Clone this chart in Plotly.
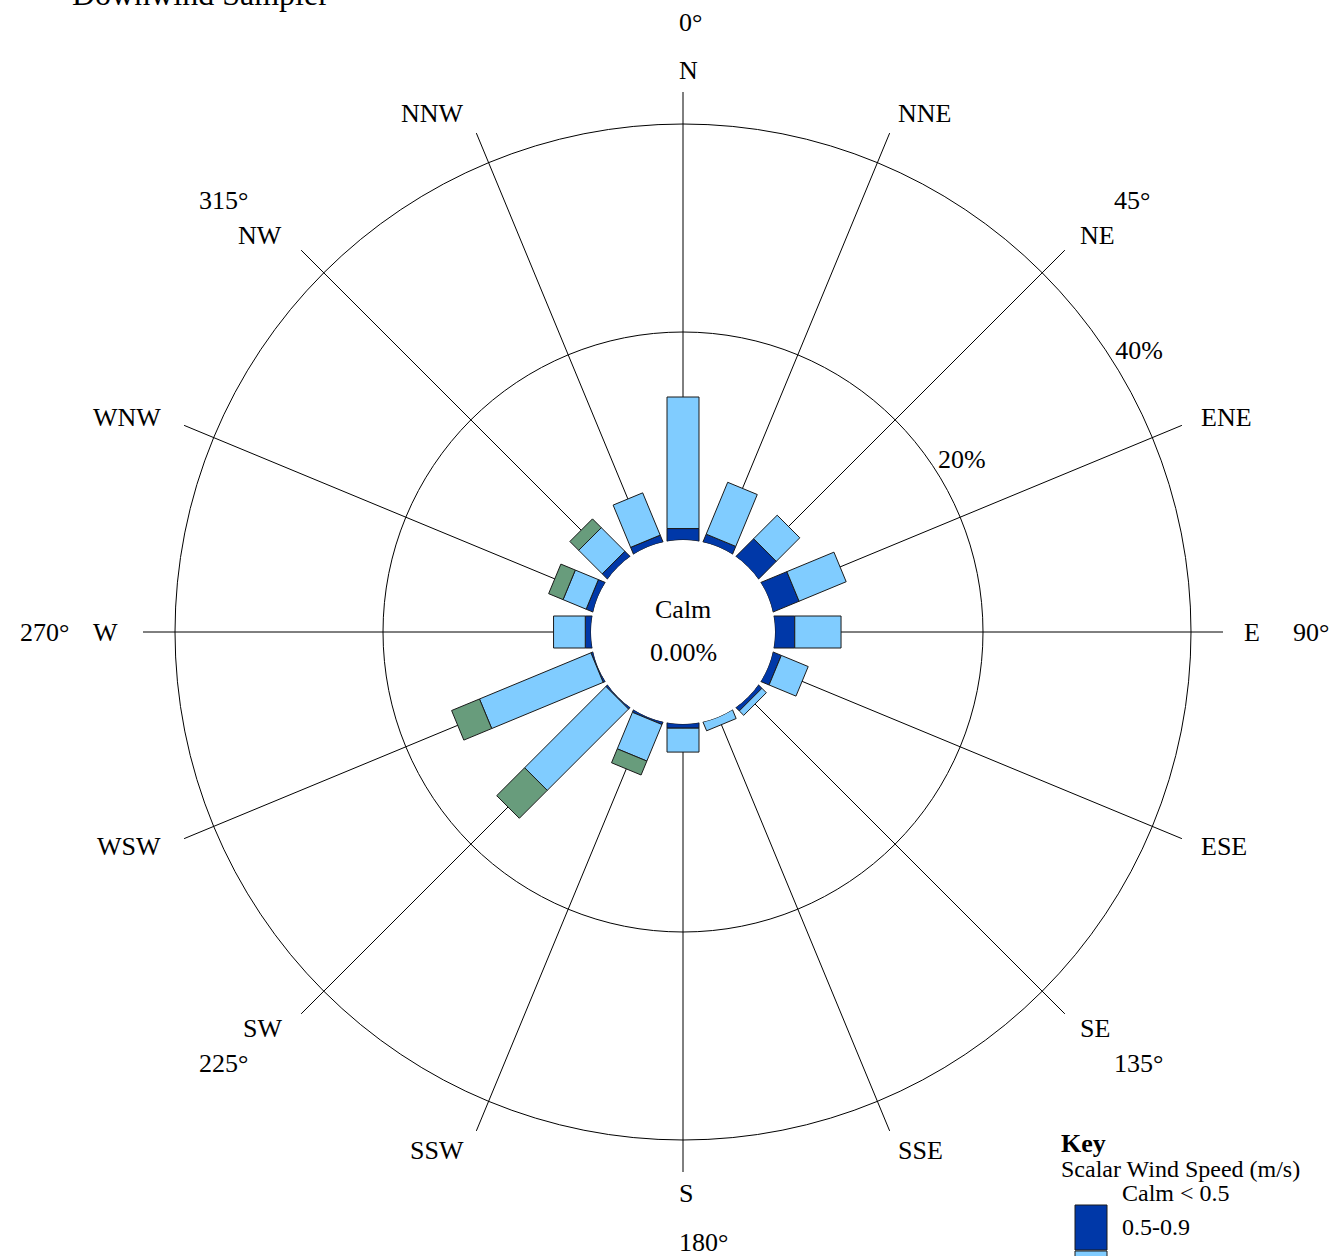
import math
import numpy as np
import plotly.graph_objects as go

# ---- data -------------------------------------------------------------
directions = ["N", "NNE", "NE", "ENE", "E", "ESE", "SE", "SSE",
              "S", "SSW", "SW", "WSW", "W", "WNW", "NW", "NNW"]
dir_angles = [i * 22.5 for i in range(16)]

# frequency (%) per wind-speed class, stacked outward from the calm circle
speed_0p5_0p9 = [1.1, 0.7, 2.3, 2.6, 1.9, 0.75, 0.35, 0.0,
                 0.4, 0.15, 0.1, 0.1, 0.55, 0.6, 0.6, 0.6]
speed_class_2 = [12.65, 5.4, 3.2, 4.9, 4.45, 2.8, 0.6, 0.8,
                 2.3, 3.8, 11.05, 11.6, 3.05, 2.4, 3.2, 4.4]
speed_class_3 = [0.0, 0.0, 0.0, 0.0, 0.0, 0.0, 0.0, 0.0,
                 0.0, 1.45, 3.8, 2.9, 0.0, 1.5, 1.2, 0.0]

calm_pct = 0.0
ring_values = [20, 40]
degree_angles = [0, 45, 90, 135, 180, 225, 270, 315]

# ---- styling / geometry ----------------------------------------------
W, H = 1343, 1256
FONT = "Liberation Serif"
COLORS = ["#0038A8", "#80CCFF", "#689C7C"]
OUTLINE = "#1a1a1a"

CX, CY = 683, 632           # centre of the rose (px)
R_OUT = 540                 # outer radius of the polar area (px)
R_HOLE = 92                 # calm circle radius (px)
PX_PER_PCT = 10.4
R_MAX = (R_OUT - R_HOLE) / PX_PER_PCT
HOLE = R_HOLE / R_OUT
OFF = HOLE / (1 - HOLE) * R_MAX     # calm circle radius in % units
HALF_W = 16 / PX_PER_PCT            # half bar width in % units
LABEL_CX = CX - 2                   # anchor centre for the outer labels
R_COMPASS = 561                     # compass-point label anchor radius (px)
R_BEARING = 610                     # bearing label anchor radius (px)


def seg_polygon(theta, v0, v1):
    """Rectangular bar segment from v0 to v1 along direction theta."""
    p = HALF_W
    rs, ts = [], []
    if v0 <= 0:
        phi = math.degrees(math.asin(p / OFF))
        for t in np.linspace(-phi, phi, 9):
            rs.append(0.0)
            ts.append(theta + t)
    else:
        a0 = OFF + v0
        for s in (-1, 1):
            rs.append(math.hypot(a0, p) - OFF)
            ts.append(theta + s * math.degrees(math.atan2(p, a0)))
    a1 = OFF + v1
    for s in (1, -1):
        rs.append(math.hypot(a1, p) - OFF)
        ts.append(theta + s * math.degrees(math.atan2(p, a1)))
    rs.append(rs[0])
    ts.append(ts[0])
    return rs, ts


fig = go.Figure()

series = [speed_0p5_0p9, speed_class_2, speed_class_3]
base = [0.0] * 16
for k, vals in enumerate(series):
    for i, v in enumerate(vals):
        if v <= 0:
            continue
        rs, ts = seg_polygon(dir_angles[i], base[i], base[i] + v)
        fig.add_trace(go.Scatterpolar(
            r=rs, theta=ts, mode="lines", fill="toself",
            fillcolor=COLORS[k], line=dict(color=OUTLINE, width=1),
            hoverinfo="skip", showlegend=False, subplot="polar"))
        base[i] += v

# ring percentage labels
fig.add_trace(go.Scatterpolar(
    r=[v + 2.6 for v in ring_values], theta=[58.5] * len(ring_values),
    text=[f"{v}%" for v in ring_values], mode="text",
    textfont=dict(family=FONT, size=26, color="black"),
    textposition="middle center", cliponaxis=False,
    hoverinfo="skip", showlegend=False, subplot="polar"))

dom_x = [(CX - R_OUT) / W, (CX + R_OUT) / W]
dom_y = [(H - CY - R_OUT) / H, (H - CY + R_OUT) / H]

fig.update_layout(
    width=W, height=H,
    margin=dict(l=0, r=0, t=0, b=0),
    paper_bgcolor="white",
    showlegend=False,
    polar=dict(
        domain=dict(x=dom_x, y=dom_y), hole=HOLE, bgcolor="white",
        radialaxis=dict(range=[0, R_MAX], tickvals=ring_values,
                        showticklabels=False, ticks="", showline=False,
                        gridcolor="black", gridwidth=1),
        angularaxis=dict(rotation=90, direction="clockwise",
                         tickvals=dir_angles, showticklabels=False,
                         ticks="", showline=False,
                         gridcolor="black", gridwidth=1)),
)


def px(x, y):
    return x / W, (H - y) / H


annotations = []


def add_text(x, y, text, size, xanchor="left", bold=False):
    xp, yp = px(x, y)
    annotations.append(dict(
        x=xp, y=yp, xref="paper", yref="paper",
        text=f"<b>{text}</b>" if bold else text,
        showarrow=False, xanchor=xanchor, yanchor="middle",
        font=dict(family=FONT, size=size, color="black")))


def add_around(angle, radius, text):
    a = math.radians(angle)
    s = math.sin(a)
    x = LABEL_CX + radius * s
    if s > 0.01:
        anchor = "left"
    elif s < -0.01:
        anchor = "right"
    else:
        anchor, x = "left", LABEL_CX - 4
    add_text(x, CY - radius * math.cos(a), text, 26, xanchor=anchor)


# compass points and bearing labels around the rose
for ang, name in zip(dir_angles, directions):
    add_around(ang, R_COMPASS, name)
for ang in degree_angles:
    add_around(ang, R_BEARING, f"{ang}°")

add_text(70, -6, "Downwind Sampler", 32)
add_text(CX, 610, "Calm", 26, xanchor="center")
add_text(CX, 652, f"{calm_pct:.2f}%", 26, xanchor="center")

# key
add_text(1059, 1143, "Key", 26, bold=True)
add_text(1059, 1169, "Scalar Wind Speed (m/s)", 24)
add_text(1120, 1193, "Calm &lt; 0.5", 24)
add_text(1120, 1227, "0.5-0.9", 24)

fig.update_layout(annotations=annotations)

x0, x1 = 1075 / W, 1107 / W
fig.add_shape(type="rect", xref="paper", yref="paper",
              x0=x0, x1=x1, y0=(H - 1250) / H, y1=(H - 1205) / H,
              fillcolor=COLORS[0], line=dict(color=OUTLINE, width=1))
fig.add_shape(type="rect", xref="paper", yref="paper",
              x0=x0, x1=x1, y0=(H - 1300) / H, y1=(H - 1251) / H,
              fillcolor=COLORS[1], line=dict(color=OUTLINE, width=1))

fig.write_html("out.html")
